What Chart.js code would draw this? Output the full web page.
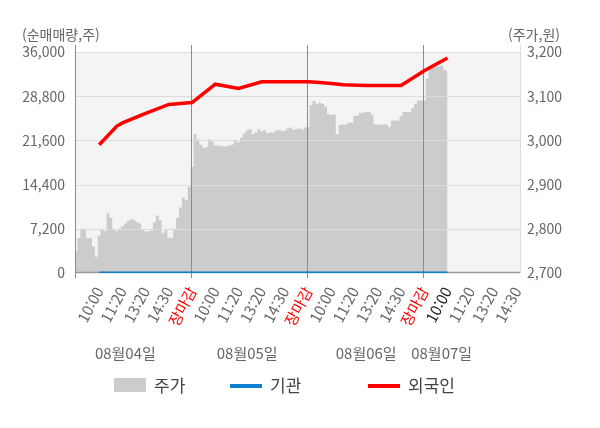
<!DOCTYPE html>
<html lang="ko">
<head>
<meta charset="utf-8">
<script src="https://cdn.jsdelivr.net/npm/chart.js@4.4.1/dist/chart.umd.min.js"></script>
<style>
    html, body { margin: 0; padding: 0; background: #fff; }
    #wrap { width: 600px; height: 428px; }
</style>
</head>
<body>
<div id="wrap"><canvas id="chart" width="600" height="428"></canvas></div>
<script>
// x axis: 40 steps per trading day, last day runs out after 14:30
const pointCount = 154;
const tickIndex = [8, 16, 24, 32, 40, 48, 56, 64, 72, 80, 88, 96, 104, 112, 120, 128, 136, 144, 152];
const tickText = ['10:00', '11:20', '13:20', '14:30', '장마감',
                  '10:00', '11:20', '13:20', '14:30', '장마감',
                  '10:00', '11:20', '13:20', '14:30', '장마감',
                  '10:00', '11:20', '13:20', '14:30'];
const dayBreaks = [40, 80, 120];
const dateLabels = ['08월04일', '08월05일', '08월06일', '08월07일'];
const dateLabelIdx = [17, 59, 100, 126];

// 주가 (원), one value per step
const priceValues = [
    2750, 2779, 2800, 2799, 2779, 2779, 2760, 2737, 2785, 2798,
    2795, 2835, 2825, 2800, 2795, 2800, 2805, 2812, 2818, 2822,
    2820, 2815, 2812, 2798, 2794, 2794, 2796, 2815, 2830, 2820,
    2790, 2797, 2780, 2780, 2800, 2825, 2848, 2870, 2865, 2895, 2940,
    3014, 3002, 2990, 2983, 2985, 3002, 2997, 2989, 2988, 2988,
    2986, 2987, 2989, 2991, 3001, 2995, 3006, 3016, 3023, 3025,
    3014, 3018, 3025, 3020, 3023, 3017, 3018, 3018, 3023, 3023,
    3021, 3022, 3027, 3029, 3024, 3026, 3027, 3024, 3029, 3030,
    3080, 3089, 3083, 3085, 3083, 3076, 3059, 3058, 3058, 3014,
    3035, 3036, 3036, 3040, 3040, 3055, 3056, 3062, 3063, 3064,
    3064, 3058, 3036, 3036, 3036, 3036, 3036, 3030, 3045, 3045,
    3045, 3055, 3064, 3064, 3064, 3073, 3083, 3090, 3090, 3090,
    3140, 3169, 3164, 3167, 3167, 3169, 3160, 3157
];

// 순매매량 (주), sampled steps
const flowIdx = [8, 14, 16, 24, 32, 40, 48, 56, 64, 72, 80, 84, 88, 92, 100, 112, 120, 128];
const foreignValues = [20900, 23900, 24450, 26010, 27450, 27770, 30760, 30060, 31140, 31140,
                       31140, 31040, 30880, 30650, 30550, 30550, 32940, 35020];
const institutionValues = [0, 0, 0, 0, 0, 0, 0, 0, 0, 0, 0, 0, 0, 0, 0, 0, 0, 0];

function spread(idx, vals) {
    const arr = new Array(pointCount).fill(null);
    idx.forEach((k, j) => { arr[k] = vals[j]; });
    return arr;
}

const labels = new Array(pointCount).fill('');
tickIndex.forEach((k, j) => { labels[k] = tickText[j]; });

const FONT = "'Noto Sans CJK KR', 'Noto Sans', sans-serif";
Chart.defaults.font.family = FONT;

const decor = {
    id: 'decor',
    beforeDraw(chart) {
        const a = chart.chartArea;
        const ctx = chart.ctx;
        ctx.save();
        ctx.fillStyle = '#f4f4f4';
        ctx.fillRect(a.left, a.top, a.right - a.left, a.bottom - a.top);
        ctx.restore();
    },
    afterDatasetDraw(chart, args) {
        if (args.index !== 0) return;
        const a = chart.chartArea;
        const ctx = chart.ctx;
        const y = chart.scales.y;
        const x = chart.scales.x;
        ctx.save();
        ctx.lineWidth = 1;
        ctx.strokeStyle = '#dcdcdc';
        y.ticks.forEach(t => {
            if (t.value === 0) return;
            const py = Math.round(y.getPixelForValue(t.value)) + 0.5;
            ctx.beginPath();
            ctx.moveTo(a.left, py);
            ctx.lineTo(a.right, py);
            ctx.stroke();
        });
        // bottom line
        ctx.strokeStyle = '#999';
        ctx.lineWidth = 1.5;
        ctx.beginPath();
        ctx.moveTo(a.left, a.bottom - 0.5);
        ctx.lineTo(a.right, a.bottom - 0.5);
        ctx.stroke();
        // right axis line
        ctx.lineWidth = 1;
        ctx.strokeStyle = '#dddddd';
        ctx.beginPath();
        ctx.moveTo(Math.round(a.right) + 0.5, a.top - 7);
        ctx.lineTo(Math.round(a.right) + 0.5, a.bottom);
        ctx.stroke();
        // left axis and day breaks
        ctx.strokeStyle = '#8c8c8c';
        const xs = [a.left].concat(dayBreaks.map(d => x.getPixelForValue(d)));
        xs.forEach(px => {
            const vx = Math.round(px) - 0.5;
            ctx.beginPath();
            ctx.moveTo(vx, a.top - 7);
            ctx.lineTo(vx, a.bottom + 5);
            ctx.stroke();
        });
        ctx.restore();
    },
    afterDraw(chart) {
        const ctx = chart.ctx;
        const x = chart.scales.x;
        ctx.save();
        ctx.fillStyle = '#666';
        ctx.font = '14px ' + FONT;
        ctx.textBaseline = 'middle';
        ctx.textAlign = 'left';
        ctx.fillText('(순매매량,주)', 22, 35);
        ctx.textAlign = 'right';
        ctx.fillText('(주가,원)', 560, 35);

        ctx.font = '15px ' + FONT;
        ctx.textAlign = 'center';
        dateLabels.forEach((t, j) => {
            ctx.fillText(t, x.getPixelForValue(dateLabelIdx[j]), 353);
        });

        // legend
        const items = [
            { text: '주가', color: '#cccccc', box: true, x: 114 },
            { text: '기관', color: '#0f7fd0', box: false, x: 230 },
            { text: '외국인', color: '#ff0000', box: false, x: 368 }
        ];
        ctx.font = '17px ' + FONT;
        ctx.textAlign = 'left';
        items.forEach(it => {
            ctx.fillStyle = it.color;
            if (it.box) {
                ctx.fillRect(it.x, 378, 32, 14);
            } else {
                ctx.fillRect(it.x, 384, 32, 4);
            }
            ctx.fillStyle = '#444';
            ctx.fillText(it.text, it.x + 40, 386);
        });
        ctx.restore();
    }
};

new Chart(document.getElementById('chart'), {
    type: 'line',
    data: {
        labels: labels,
        datasets: [{
            label: '주가',
            data: priceValues,
            yAxisID: 'y1',
            fill: 'start',
            stepped: 'middle',
            backgroundColor: '#cccccc',
            borderWidth: 0,
            pointRadius: 0,
            order: 2
        }, {
            label: '기관',
            data: spread(flowIdx, institutionValues),
            yAxisID: 'y',
            borderColor: '#0f7fd0',
            borderWidth: 3,
            pointRadius: 0,
            spanGaps: true,
            fill: false,
            order: 1
        }, {
            label: '외국인',
            data: spread(flowIdx, foreignValues),
            yAxisID: 'y',
            borderColor: '#ff0000',
            borderWidth: 3.5,
            pointRadius: 0,
            spanGaps: true,
            fill: false,
            order: 0
        }]
    },
    options: {
        responsive: false,
        animation: false,
        layout: { padding: { top: 52, left: 0, right: 0, bottom: 0 } },
        plugins: {
            legend: { display: false },
            tooltip: { enabled: false }
        },
        scales: {
            x: {
                grid: { display: false, drawTicks: false },
                border: { display: false },
                ticks: {
                    autoSkip: false,
                    minRotation: 62,
                    maxRotation: 62,
                    padding: 11,
                    font: { size: 15 },
                    color: function(ctx) {
                        if (ctx.tick && ctx.tick.label === '장마감') return '#ff0000';
                        if (ctx.index === 128) return '#222';
                        return '#666';
                    }
                },
                afterFit: function(scale) { scale.height = 155; }
            },
            y: {
                position: 'left',
                min: 0,
                max: 36000,
                grid: { display: false, drawTicks: false },
                border: { display: false },
                ticks: {
                    stepSize: 7200,
                    padding: 11,
                    color: '#666',
                    font: { size: 14 },
                    callback: v => v.toLocaleString('en-US')
                },
                afterFit: function(scale) { scale.width = 76; }
            },
            y1: {
                position: 'right',
                min: 2700,
                max: 3200,
                grid: { display: false, drawTicks: false },
                border: { display: false },
                ticks: {
                    stepSize: 100,
                    padding: 7,
                    color: '#666',
                    font: { size: 14 },
                    callback: v => v.toLocaleString('en-US')
                },
                afterFit: function(scale) { scale.width = 80; }
            }
        }
    },
    plugins: [decor]
});
</script>
</body>
</html>
